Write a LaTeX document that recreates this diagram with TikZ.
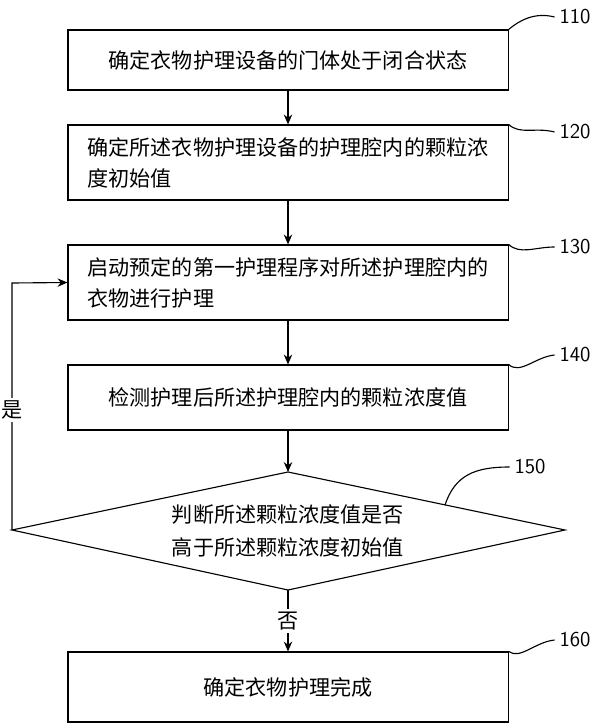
\documentclass[tikz,border=0pt]{standalone}
\usepackage{fontspec}
\newfontfamily\cjk{Noto Sans CJK SC}
\usetikzlibrary{arrows.meta,positioning}
\tikzset{
  stepbox/.style={draw, thick, minimum width=11cm, align=left, font=\cjk\fontsize{15}{22}\selectfont, inner xsep=4pt},
  flow/.style={thick, -{Stealth[length=7pt,width=6pt]}},
  tag/.style={font=\fontsize{15}{17}\selectfont\sffamily},
  lead/.style={thick}
}
\begin{document}
\begin{tikzpicture}[x=0.025cm,y=-0.025cm]
\useasboundingbox (0,0) rectangle (600,727);

\node [stepbox, minimum height=1.5cm] (s1) at (288,60) {确定衣物护理设备的门体处于闭合状态};
\node [stepbox, minimum height=1.875cm] (s2) at (288,162.5) {确定所述衣物护理设备的护理腔内的颗粒浓\\度初始值};
\node [stepbox, minimum height=1.875cm] (s3) at (288,282.5) {启动预定的第一护理程序对所述护理腔内的\\衣物进行护理};
\node [stepbox, minimum height=1.625cm] (s4) at (288,397.5) {检测护理后所述护理腔内的颗粒浓度值};
\node [stepbox, minimum height=1.75cm, align=center] (s6) at (288,687) {确定衣物护理完成};

% judgement
\coordinate (dt) at (288,472);
\coordinate (dr) at (565,530);
\coordinate (db) at (288,590);
\coordinate (dl) at (12,530);
\draw [thick] (dt) -- (dr) -- (db) -- (dl) -- cycle;
\node [align=center, font=\cjk\fontsize{15}{24}\selectfont] (s5) at (288,531) {判断所述颗粒浓度值是否\\高于所述颗粒浓度初始值};

\draw [flow] (s1) -- (s2);
\draw [flow] (s2) -- (s3);
\draw [flow] (s3) -- (s4);
\draw [flow] (s4) -- (dt);
\draw [flow] (db) -- node [fill=white, inner sep=2pt, font=\cjk\fontsize{15}{17}\selectfont] {否} (s6);
\draw [flow] (dl) -- (12,283) -- (s3.west);
\node [fill=white, inner sep=2pt, font=\cjk\fontsize{15}{17}\selectfont] (yes) at (12,410) {是};

% step numbers
\node [tag] (n1) at (575,17) {110};
\node [tag] (n2) at (575,132) {120};
\node [tag] (n3) at (575,247) {130};
\node [tag] (n4) at (575,355) {140};
\node [tag] (n5) at (530,467) {150};
\node [tag] (n6) at (575,640) {160};
\draw [lead] (s1.north east) .. controls (520,20) and (535,12) .. (n1.west);
\draw [lead] (s2.north east) .. controls (520,135) and (535,127) .. (n2.west);
\draw [lead] (s3.north east) .. controls (520,255) and (535,247) .. (n3.west);
\draw [lead] (s4.north east) .. controls (520,375) and (535,357) .. (n4.west);
\draw [lead] (445,505) .. controls (455,475) and (475,467) .. (n5.west);
\draw [lead] (s6.north east) .. controls (520,660) and (535,642) .. (n6.west);
\end{tikzpicture}
\end{document}
